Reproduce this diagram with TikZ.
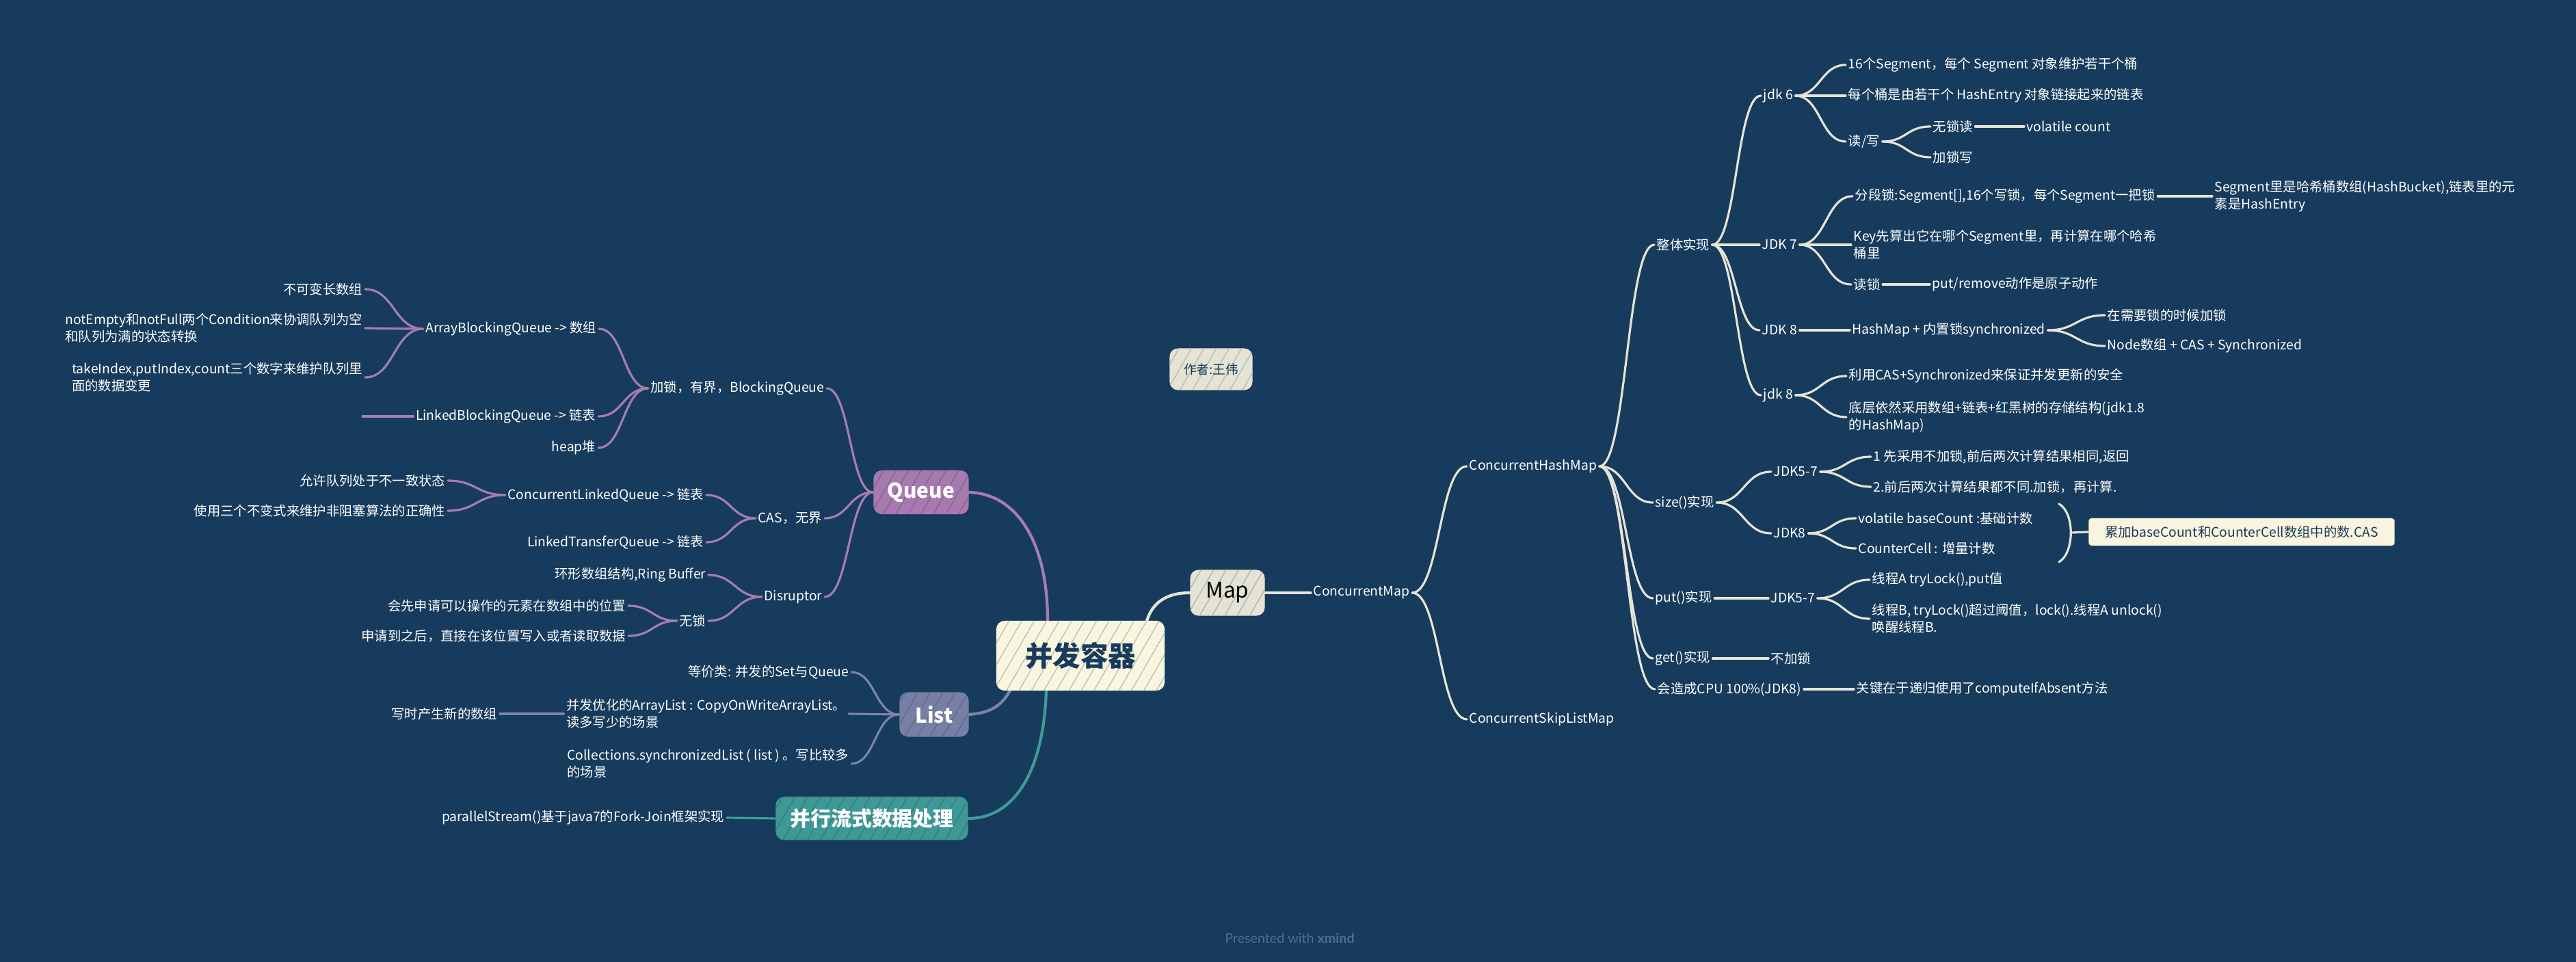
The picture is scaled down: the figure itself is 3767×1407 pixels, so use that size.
\documentclass[tikz,border=0pt]{standalone}
\usepackage{fontspec}
\newfontfamily\cjk{Noto Sans CJK SC}
\newfontfamily\footfont{Lato}
\usetikzlibrary{calc,patterns.meta}
\definecolor{bgc}{RGB}{23,59,92}
\definecolor{mapc}{RGB}{230,228,214}
\definecolor{quec}{RGB}{168,124,176}
\definecolor{lisc}{RGB}{125,131,166}
\definecolor{strc}{RGB}{64,154,151}
\definecolor{cenfill}{RGB}{250,245,222}
\definecolor{mapfill}{RGB}{229,227,212}
\definecolor{quefill}{RGB}{167,121,174}
\definecolor{lisfill}{RGB}{120,127,164}
\definecolor{strfill}{RGB}{62,152,149}
\definecolor{navy}{RGB}{23,59,92}
\definecolor{footc}{RGB}{78,110,142}
\pgfdeclarelayer{bgl}
\pgfdeclarelayer{lines}
\pgfsetlayers{bgl,lines,main}
\begin{document}
\begin{tikzpicture}[x=0.01cm,y=-0.01cm,
  txt/.style={text=white, font=\cjk\fontsize{5.5}{7.1}\selectfont, inner xsep=0.03cm, inner ysep=0.02cm, align=left},
  rt/.style={txt, anchor=west},
  lt/.style={txt, anchor=east},
  hatch/.style={postaction={pattern={Lines[angle=60,distance=4.5pt,line width=0.35pt]}, pattern color=#1}},
  boxbase/.style={rounded corners=0.12cm, inner sep=0, align=center},
  topic/.style={boxbase, text=white, font=\cjk\bfseries\fontsize{8.5}{10}\selectfont},
  cbox/.style={boxbase, fill=cenfill, hatch=cenfill!70!navy, text=navy, font=\cjk\bfseries\fontsize{11.5}{13}\selectfont, minimum width=2.46cm, minimum height=1.02cm},
  mapbox/.style={boxbase, fill=mapfill, hatch=mapfill!70!navy, text=black, font=\cjk\fontsize{9}{10}\selectfont, minimum width=1.09cm, minimum height=0.67cm},
  authbox/.style={boxbase, fill=mapfill, hatch=mapfill!75!navy, text=navy, font=\cjk\fontsize{5.3}{6.5}\selectfont, minimum width=1.21cm, minimum height=0.61cm},
  qbox/.style={topic, fill=quefill, hatch=quefill!70!navy, minimum width=1.39cm, minimum height=0.64cm},
  lbox/.style={topic, fill=lisfill, hatch=lisfill!70!navy, minimum width=1.01cm, minimum height=0.65cm},
  sbox/.style={topic, fill=strfill, hatch=strfill!70!navy, minimum width=2.81cm, minimum height=0.63cm},
  sumbox/.style={rounded corners=0.04cm, fill=cenfill!95!mapfill, text=navy, font=\cjk\fontsize{5.5}{7}\selectfont, minimum width=4.47cm, minimum height=0.40cm, inner sep=0},
  ml/.style={draw=mapc, line width=0.9pt, line cap=round},
  ql/.style={draw=quec, line width=0.9pt, line cap=round},
  ll/.style={draw=lisc, line width=0.9pt, line cap=round},
  sl/.style={draw=strc, line width=0.9pt, line cap=round},
  curv/.style={to path={let \p1=(\tikztostart), \p2=(\tikztotarget), \p3=($(\tikztostart)!0.5!(\tikztotarget)$) in .. controls (\x3,\y1) and (\x3,\y2) .. (\tikztotarget)}}
]
\useasboundingbox (0,0) rectangle (3767,1407);
\begin{pgfonlayer}{bgl}
\fill[bgc] (0,0) rectangle (3767,1407);
\end{pgfonlayer}

% ---- main boxes
\node[cbox] (cen) at (1580,959) {并发容器};
\node[mapbox] (map) at (1795,867) {Map};
\node[authbox] (auth) at (1771,540) {作者:王伟};
\node[qbox] (queue) at (1347,720) {Queue};
\node[lbox] (list) at (1366,1045) {List};
\node[sbox] (ps) at (1275,1197) {并行流式数据处理};

% ---- Map side
\node[rt] (cmap) at (1917,867) {ConcurrentMap};
\node[rt] (chm) at (2145,682) {ConcurrentHashMap};
\node[rt] (cslm) at (2145,1052) {ConcurrentSkipListMap};
\node[rt] (zt) at (2419,358) {整体实现};
\node[rt] (sz) at (2417,735) {size()实现};
\node[rt] (put) at (2417,875) {put()实现};
\node[rt] (get) at (2417,963) {get()实现};
\node[rt] (cpu) at (2420,1008) {会造成CPU 100\%(JDK8)};
\node[rt] (jdk6) at (2575,140) {jdk 6};
\node[rt] (jdk7) at (2573,358) {JDK 7};
\node[rt] (jdk8a) at (2573,483) {JDK 8};
\node[rt] (jdk8b) at (2575,578) {jdk 8};
\node[rt] (j6a) at (2699,95) {16个Segment，每个 Segment 对象维护若干个桶};
\node[rt] (j6b) at (2699,140) {每个桶是由若干个 HashEntry 对象链接起来的链表};
\node[rt] (j6c) at (2699,207) {读/写};
\node[rt] (j6c1) at (2823,185) {无锁读};
\node[rt] (j6c1a) at (2960,185) {volatile count};
\node[rt] (j6c2) at (2823,230) {加锁写};
\node[rt] (j7a) at (2709,287) {分段锁:Segment[],16个写锁，每个Segment一把锁};
\node[rt] (j7a1) at (3235,287) {Segment里是哈希桶数组(HashBucket),链表里的元\\素是HashEntry};
\node[rt] (j7b) at (2707,358) {Key先算出它在哪个Segment里，再计算在哪个哈希\\桶里};
\node[rt] (j7c) at (2707,416) {读锁};
\node[rt] (j7c1) at (2822,416) {put/remove动作是原子动作};
\node[rt] (j8a1) at (2705,483) {HashMap + 内置锁synchronized};
\node[rt] (j8a1a) at (3078,461) {在需要锁的时候加锁};
\node[rt] (j8a1b) at (3078,506) {Node数组 + CAS + Synchronized};
\node[rt] (j8b1) at (2700,550) {利用CAS+Synchronized来保证并发更新的安全};
\node[rt] (j8b2) at (2700,610) {底层依然采用数组+链表+红黑树的存储结构(jdk1.8\\的HashMap)};
\node[rt] (sz1) at (2590,690) {JDK5-7};
\node[rt] (sz2) at (2590,780) {JDK8};
\node[rt] (sz1a) at (2736,668) {1 先采用不加锁,前后两次计算结果相同,返回};
\node[rt] (sz1b) at (2736,712) {2.前后两次计算结果都不同.加锁，再计算.};
\node[rt] (sz2a) at (2714,758) {volatile baseCount :基础计数};
\node[rt] (sz2b) at (2714,802) {CounterCell : 增量计数};
\node[rt] (put1) at (2586,875) {JDK5-7};
\node[rt] (put1a) at (2734,848) {线程A tryLock(),put值};
\node[rt] (put1b) at (2734,905) {线程B, tryLock()超过阈值，lock().线程A unlock()\\唤醒线程B.};
\node[rt] (get1) at (2586,963) {不加锁};
\node[rt] (cpu1) at (2711,1008) {关键在于递归使用了computeIfAbsent方法};
\node[sumbox] (sum) at (3278,778) {累加baseCount和CounterCell数组中的数.CAS};

% ---- Queue side
\node[lt] (bq) at (1209,568) {加锁，有界，BlockingQueue};
\node[lt] (cas) at (1206,758) {CAS，无界};
\node[lt] (dis) at (1206,873) {Disruptor};
\node[lt] (abq) at (876,481) {ArrayBlockingQueue -> 数组};
\node[lt] (lbq) at (875,609) {LinkedBlockingQueue -> 链表};
\node[lt] (heap) at (875,655) {heap堆};
\node[lt] (abq1) at (534,423) {不可变长数组};
\node[lt] (abq2) at (534,480) {notEmpty和notFull两个Condition来协调队列为空\\和队列为满的状态转换};
\node[lt] (abq3) at (534,552) {takeIndex,putIndex,count三个数字来维护队列里\\面的数据变更};
\coordinate (lbq1) at (530,609);
\node[lt] (clq) at (1033,724) {ConcurrentLinkedQueue -> 链表};
\node[lt] (ltq) at (1033,793) {LinkedTransferQueue -> 链表};
\node[lt] (clq1) at (655,703) {允许队列处于不一致状态};
\node[lt] (clq2) at (655,747) {使用三个不变式来维护非阻塞算法的正确性};
\node[lt] (ring) at (1036,841) {环形数组结构,Ring Buffer};
\node[lt] (wus) at (1036,908) {无锁};
\node[lt] (wus1) at (919,886) {会先申请可以操作的元素在数组中的位置};
\node[lt] (wus2) at (919,930) {申请到之后，直接在该位置写入或者读取数据};

% ---- List side
\node[lt] (l1) at (1245,983) {等价类: 并发的Set与Queue};
\node[lt] (l2) at (1241,1044) {并发优化的ArrayList : CopyOnWriteArrayList。\\读多写少的场景};
\node[lt] (l2a) at (731,1044) {写时产生新的数组};
\node[lt] (l3) at (1245,1117) {Collections.synchronizedList ( list ) 。写比较多\\的场景};

% ---- stream
\node[lt] (ps1) at (1063,1196) {parallelStream()基于java7的Fork-Join框架实现};

% ---- footer
\node[font=\footfont\fontsize{5.6}{6.5}\selectfont, text=footc] (foot) at (1886,1372) {Presented with \textbf{xmind}};

\begin{pgfonlayer}{lines}
% main branches
\coordinate (cm1) at (1677,908);
\coordinate (cq1) at (1532,908);
\coordinate (cl1) at (1477,1010);
\coordinate (cs1) at (1530,1010);
\draw[ml, line width=1.2pt] (cm1) .. controls (1685,882) and (1705,867) .. (map.west);
\draw[ql, line width=1.2pt] (queue.east) .. controls (1485,722) and (1532,790) .. (cq1);
\draw[ll, line width=1.2pt] (cl1) .. controls (1462,1038) and (1440,1043) .. (list.east);
\draw[sl, line width=1.2pt] (cs1) .. controls (1526,1130) and (1482,1197) .. (ps.east);

% Map tree
\draw[ml] (map.east) -- (cmap.west);
\draw[ml] (cmap.east) to[curv] (chm.west);
\draw[ml] (cmap.east) to[curv] (cslm.west);
\foreach \c in {zt,sz,put,get,cpu} \draw[ml] (chm.east) to[curv] (\c.west);
\foreach \c in {jdk6,jdk7,jdk8a,jdk8b} \draw[ml] (zt.east) to[curv] (\c.west);
\foreach \c in {j6a,j6b,j6c} \draw[ml] (jdk6.east) to[curv] (\c.west);
\foreach \c in {j6c1,j6c2} \draw[ml] (j6c.east) to[curv] (\c.west);
\draw[ml] (j6c1.east) -- (j6c1a.west);
\foreach \c in {j7a,j7b,j7c} \draw[ml] (jdk7.east) to[curv] (\c.west);
\draw[ml] (j7a.east) -- (j7a1.west);
\draw[ml] (j7c.east) -- (j7c1.west);
\draw[ml] (jdk8a.east) -- (j8a1.west);
\foreach \c in {j8a1a,j8a1b} \draw[ml] (j8a1.east) to[curv] (\c.west);
\foreach \c in {j8b1,j8b2} \draw[ml] (jdk8b.east) to[curv] (\c.west);
\foreach \c in {sz1,sz2} \draw[ml] (sz.east) to[curv] (\c.west);
\foreach \c in {sz1a,sz1b} \draw[ml] (sz1.east) to[curv] (\c.west);
\foreach \c in {sz2a,sz2b} \draw[ml] (sz2.east) to[curv] (\c.west);
\draw[ml] (put.east) -- (put1.west);
\foreach \c in {put1a,put1b} \draw[ml] (put1.east) to[curv] (\c.west);
\draw[ml] (get.east) -- (get1.west);
\draw[ml] (cpu.east) -- (cpu1.west);
% summary bracket
\coordinate (br1) at (3011,737);
\coordinate (br2) at (3011,822);
\coordinate (brm) at (3029,779);
\draw[ml] (br1) .. controls (3034,750) and (3034,808) .. (br2);
\draw[ml] (brm) -- (sum.west);

% Queue tree
\foreach \c in {bq,cas,dis} \draw[ql] (queue.west) to[curv] (\c.east);
\foreach \c in {abq,lbq,heap} \draw[ql] (bq.west) to[curv] (\c.east);
\foreach \c in {abq1,abq2,abq3} \draw[ql] (abq.west) to[curv] (\c.east);
\draw[ql] (lbq.west) -- (lbq1);
\foreach \c in {clq,ltq} \draw[ql] (cas.west) to[curv] (\c.east);
\foreach \c in {clq1,clq2} \draw[ql] (clq.west) to[curv] (\c.east);
\foreach \c in {ring,wus} \draw[ql] (dis.west) to[curv] (\c.east);
\foreach \c in {wus1,wus2} \draw[ql] (wus.west) to[curv] (\c.east);

% List tree
\foreach \c in {l1,l2,l3} \draw[ll] (list.west) to[curv] (\c.east);
\draw[ll] (l2.west) -- (l2a.east);

% stream
\draw[sl] (ps.west) -- (ps1.east);
\end{pgfonlayer}
\end{tikzpicture}
\end{document}
